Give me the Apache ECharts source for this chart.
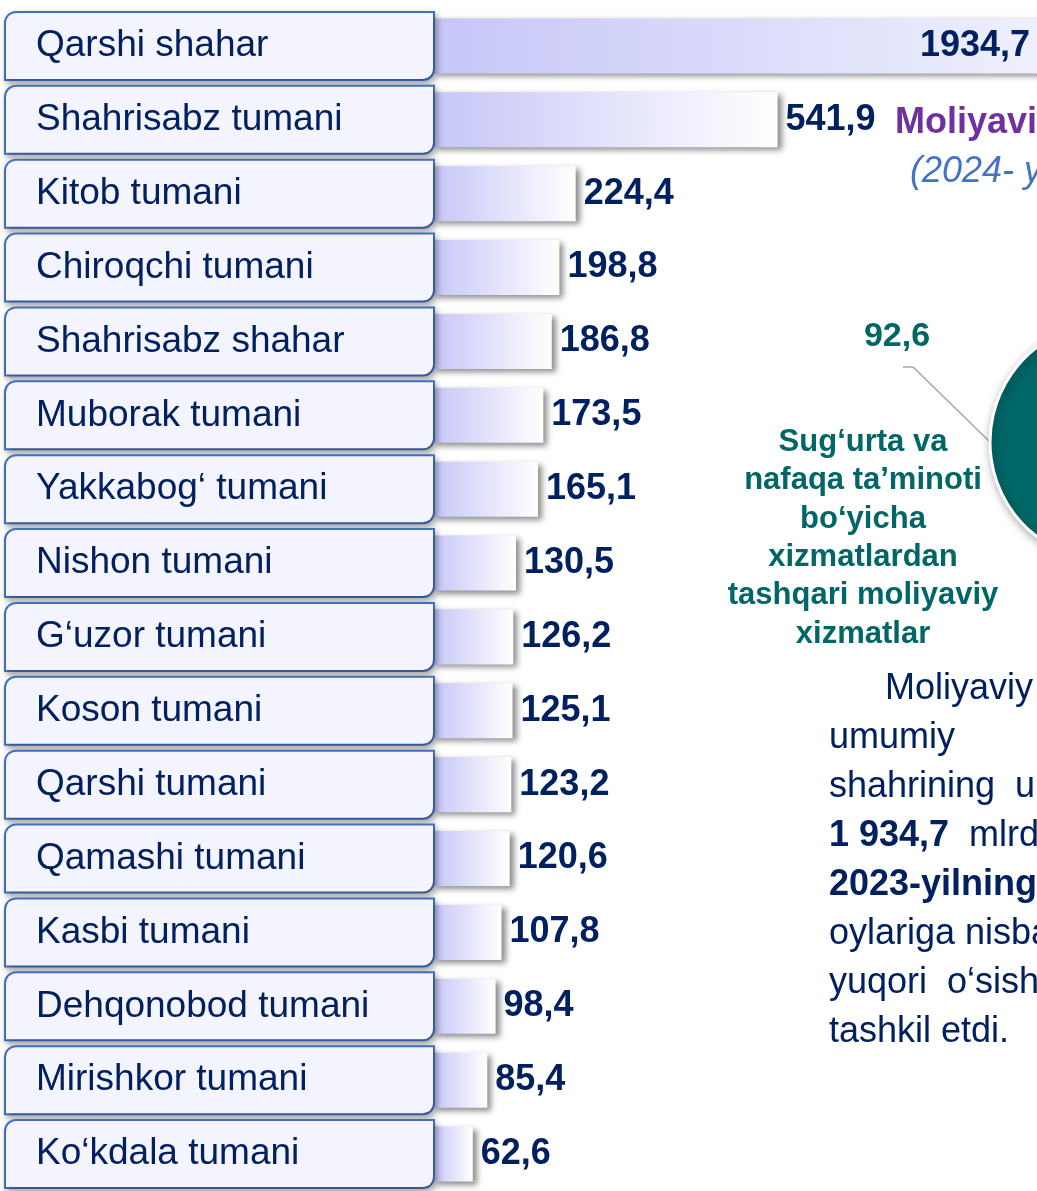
<!DOCTYPE html>
<html lang="uz">
<head>
<meta charset="utf-8">
<title>Moliyaviy xizmatlar</title>
<script src="https://cdn.jsdelivr.net/npm/echarts@6.0.0/dist/echarts.min.js"></script>
<style>
  html, body { margin: 0; padding: 0; background: #fff; }
  #chart { width: 1037px; height: 1191px; }
</style>
</head>
<body>
<div id="chart"></div>
<script>
// Hududlar (yuqoridan pastga)
const districts = [
    'Qarshi shahar', 'Shahrisabz tumani', 'Kitob tumani', 'Chiroqchi tumani',
    'Shahrisabz shahar', 'Muborak tumani', 'Yakkabog‘ tumani', 'Nishon tumani',
    'G‘uzor tumani', 'Koson tumani', 'Qarshi tumani', 'Qamashi tumani',
    'Kasbi tumani', 'Dehqonobod tumani', 'Mirishkor tumani', 'Ko‘kdala tumani'
];
// Moliyaviy xizmatlar hajmi, mlrd so'm
const services = [
    1934.7, 541.9, 224.4, 198.8, 186.8, 173.5, 165.1, 130.5,
    126.2, 125.1, 123.2, 120.6, 107.8, 98.4, 85.4, 62.6
];
// Doiraviy diagramma (ulush, %)
const pieNames = [
    'Sug‘urta va\nnafaqa ta’minoti\nbo‘yicha\nxizmatlardan\ntashqari moliyaviy\nxizmatlar',
    'Sug‘urta va nafaqa ta’minoti bo‘yicha xizmatlar'
];
const pieShares = [92.6, 7.4];
const axisMax = 950;

const navy = '#002060';
const teal = '#006666';
const font = '"Liberation Sans", Arial, sans-serif';

function fmt(v) {
    return String(v).replace('.', ',');
}

function gradient(from, to) {
    return new echarts.graphic.LinearGradient(0, 0, 1, 0, [
        { offset: 0, color: from },
        { offset: 1, color: to }
    ]);
}

document.addEventListener('DOMContentLoaded', function () {
    const chart = echarts.init(document.getElementById('chart'));

    const pieCenter = [1109, 442];
    const pieRadius = 119;
    const pieTotal = pieShares.reduce((a, b) => a + b, 0);

    // eng katta ustun chegaradan chiqadi - yorlig'i ichkarida
    const barData = services.map(function (v) {
        if (v <= axisMax) return v;
        return {
            value: v,
            label: { position: 'insideRight', distance: 7 },
            itemStyle: { color: gradient('#c6c6f8', '#eef0fd') }
        };
    });

    const pieData = pieShares.map(function (v, i) {
        const item = { value: v, name: pieNames[i] };
        if (i === 0) {
            item.itemStyle = { color: teal };
        } else {
            item.itemStyle = { color: '#7fb2b2' };
            item.label = { show: false };
            item.labelLine = { show: false };
        }
        return item;
    });

    const paragraph = [
        '{ind| }{r|Moliyaviy xizmatlar hajmining}',
        '{r|umumiy           hajmida}',
        '{r|shahrining  ulushiga}',
        '{b|1 934,7}{r|  mlrd. so‘m}',
        '{b|2023-yilning} {r|mos davri}',
        '{r|oylariga nisbatan}',
        '{r|yuqori  o‘sish}',
        '{r|tashkil etdi.}'
    ].join('\n');

    const option = {
        backgroundColor: '#fff',
        animation: false,
        title: [{
            text: 'Moliyaviy xizmatlar hajmi',
            left: 895,
            top: 105,
            padding: 0,
            textStyle: { color: '#7030a0', fontSize: 36, fontWeight: 'bold', fontFamily: font }
        }, {
            text: '(2024- yil yanvar-iyun)',
            left: 910,
            top: 154,
            padding: 0,
            textStyle: { color: '#4472c4', fontSize: 36, fontStyle: 'italic', fontWeight: 'normal', fontFamily: font }
        }],
        grid: { left: 433, top: 9, width: 604, height: 1185 },
        xAxis: { type: 'value', min: 0, max: axisMax, show: false },
        yAxis: {
            type: 'category',
            data: districts,
            inverse: true,
            z: 5,
            axisLine: { show: false },
            axisTick: { show: false },
            splitLine: { show: false },
            axisLabel: {
                interval: 0,
                margin: 427,
                align: 'left',
                width: 397,
                height: 66,
                lineHeight: 66,
                padding: [0, 0, 0, 30],
                fontSize: 37,
                color: navy,
                fontFamily: font,
                backgroundColor: '#f3f4fe',
                borderColor: '#4472c4',
                borderWidth: 2,
                borderRadius: [10, 0, 10, 0],
                shadowColor: 'rgba(0, 0, 0, 0.3)',
                shadowBlur: 6,
                shadowOffsetX: 2,
                shadowOffsetY: 3
            }
        },
        series: [{
            type: 'bar',
            data: barData,
            barWidth: 55,
            clip: true,
            z: 2,
            itemStyle: {
                color: gradient('#c6c6f8', '#ffffff'),
                shadowColor: 'rgba(0, 0, 0, 0.45)',
                shadowBlur: 6,
                shadowOffsetX: 4,
                shadowOffsetY: 3
            },
            label: {
                show: true,
                position: 'right',
                distance: 8,
                formatter: p => fmt(p.value),
                fontSize: 36,
                fontWeight: 'bold',
                color: navy,
                fontFamily: font
            }
        }, {
            type: 'pie',
            center: pieCenter,
            radius: pieRadius,
            // birinchi bo'lak o'rtasi chap tomonda
            startAngle: 180 + pieShares[0] / pieTotal * 180,
            avoidLabelOverlap: false,
            silent: true,
            itemStyle: {
                borderColor: '#fff',
                borderWidth: 3,
                shadowBlur: 10,
                shadowOffsetX: 2,
                shadowOffsetY: 3,
                shadowColor: 'rgba(0, 0, 0, 0.35)'
            },
            label: {
                formatter: p => '{v|' + fmt(p.value) + '}\n{n|' + p.name + '}',
                rich: {
                    v: { fontSize: 34, fontWeight: 'bold', color: teal, fontFamily: font, lineHeight: 172, align: 'center', padding: [0, 0, 0, 68] },
                    n: { fontSize: 31, fontWeight: 'bold', color: teal, fontFamily: font, lineHeight: 38.4, align: 'center' }
                }
            },
            labelLine: {
                show: true,
                length: 10,
                length2: 10,
                lineStyle: { color: '#a6a6a6', width: 1.5 }
            },
            labelLayout: function (p) {
                if (p.dataIndex !== 0) return {};
                const s = p.labelLinePoints ? p.labelLinePoints[0] : [pieCenter[0] - pieRadius, pieCenter[1]];
                return {
                    x: s[0] - 127,
                    y: s[1] - 191,
                    align: 'center',
                    verticalAlign: 'top',
                    labelLinePoints: [s, [s[0] - 77, s[1] - 75], [s[0] - 87, s[1] - 75]]
                };
            },
            data: pieData
        }],
        graphic: [{
            type: 'text',
            left: 829,
            top: 665,
            style: {
                text: paragraph,
                fill: navy,
                font: '36px ' + font,
                lineHeight: 49,
                rich: {
                    ind: { width: 56, fontSize: 36, fontFamily: font, lineHeight: 49 },
                    r: { fontSize: 36, fontFamily: font, fill: navy, lineHeight: 49 },
                    b: { fontSize: 36, fontFamily: font, fontWeight: 'bold', fill: navy, lineHeight: 49 }
                }
            }
        }]
    };

    chart.setOption(option);
});
</script>
</body>
</html>
